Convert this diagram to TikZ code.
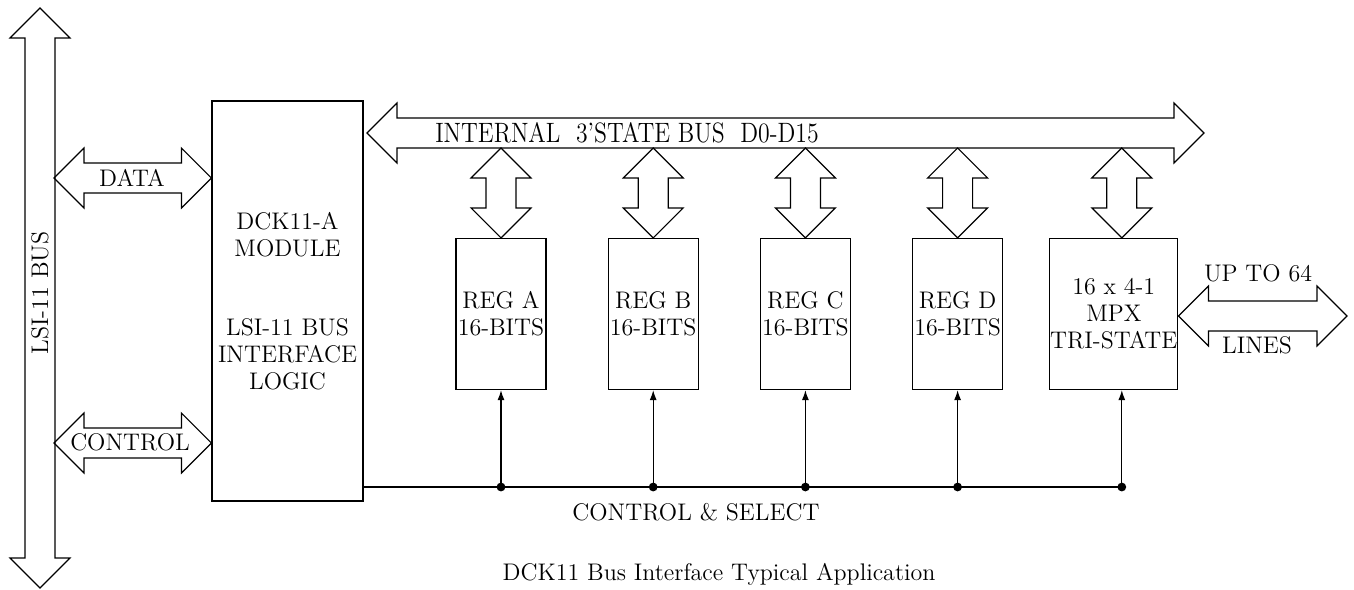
\documentclass[tikz,border=0pt]{standalone}
\usepackage{tikz}
\usepackage{graphicx}
\usetikzlibrary{positioning,calc,arrows.meta}

% wide two-headed bus arrows, tip to tip
\newcommand{\hbus}[2]{%
  \draw[bus] let \p1=(#1), \p2=(#2) in
    (\x1,\y1) -- (\x1+15pt,\y1+15pt) -- (\x1+15pt,\y1+7.5pt) -- (\x2-15pt,\y1+7.5pt)
    -- (\x2-15pt,\y1+15pt) -- (\x2,\y1) -- (\x2-15pt,\y1-15pt) -- (\x2-15pt,\y1-7.5pt)
    -- (\x1+15pt,\y1-7.5pt) -- (\x1+15pt,\y1-15pt) -- cycle;}
\newcommand{\vbus}[2]{%
  \draw[bus] let \p1=(#1), \p2=(#2) in
    (\x1,\y1) -- (\x1+15pt,\y1-15pt) -- (\x1+7.5pt,\y1-15pt) -- (\x1+7.5pt,\y2+15pt)
    -- (\x1+15pt,\y2+15pt) -- (\x1,\y2) -- (\x1-15pt,\y2+15pt) -- (\x1-7.5pt,\y2+15pt)
    -- (\x1-7.5pt,\y1-15pt) -- (\x1-15pt,\y1-15pt) -- cycle;}

\begin{document}
\begin{tikzpicture}[x=0.5pt,y=-0.5pt,line width=0.6pt,
        box/.style={draw,rectangle,inner sep=0pt,align=center,font=\fontsize{12}{13.5}\selectfont},
        reg/.style={box,minimum width=45pt,minimum height=75.5pt},
        bus/.style={line join=miter},
        lbl/.style={inner sep=0pt,font=\fontsize{12}{13.5}\selectfont},
        tap/.style={-{Latex[length=5pt,width=3.5pt]}}]
        \useasboundingbox (0,0) rectangle (1354,589);

        % system bus
        \coordinate (lsitop) at (40,8);
        \coordinate (lsibot) at (40,588);
        \vbus{lsitop}{lsibot}
        \node (lsi) [lbl,rotate=90] at (40,293) {LSI-11 BUS};

        \node (module) [box,minimum width=75.5pt,minimum height=200pt] at (287.5,301)
            {DCK11-A\\MODULE\\[26pt]LSI-11 BUS\\INTERFACE\\LOGIC};

        \coordinate (datal) at (54,178);
        \coordinate (ctrll) at (54,443);
        \hbus{datal}{module.west |- datal}
        \hbus{ctrll}{module.west |- ctrll}
        \node (data) [lbl] at (132,178) {DATA};
        \node (ctrl) [lbl] at (130,442) {CONTROL};

        % internal bus
        \coordinate (busl) at (367,133);
        \coordinate (busr) at (1204,133);
        \coordinate (busbot) at (0,148);
        \hbus{busl}{busr}
        \node (ibus) [lbl,font=\fontsize{14}{16}\selectfont] at (627,133)
            {\scalebox{0.85}[1]{INTERNAL\ \ 3'STATE BUS\ \ D0-D15}};

        \node (rega) [reg] at (501,314) {REG A\\16-BITS};
        \node (regb) [reg,right=30.5pt of rega] {REG B\\16-BITS};
        \node (regc) [reg,right=30.5pt of regb] {REG C\\16-BITS};
        \node (regd) [reg,right=30.5pt of regc] {REG D\\16-BITS};
        \node (mpx) [box,minimum width=64pt,minimum height=75.5pt,right=23pt of regd]
            {16 x 4-1\\MPX\\TRI-STATE};
        \coordinate (mpxtop) at ($(mpx.north)+(4pt,0)$);
        \coordinate (mpxbot) at ($(mpx.south)+(4pt,0)$);

        \vbus{rega.north |- busbot}{rega.north}
        \vbus{regb.north |- busbot}{regb.north}
        \vbus{regc.north |- busbot}{regc.north}
        \vbus{regd.north |- busbot}{regd.north}
        \vbus{mpxtop |- busbot}{mpxtop}

        % external lines
        \coordinate (extr) at (1347,316);
        \hbus{mpx.east |- extr}{extr}
        \node (upto) [lbl] at (1258,273) {UP TO 64};
        \node (lines) [lbl] at (1257,345) {LINES};

        % control and select
        \coordinate (ctly) at (0,487);
        \coordinate (ctl) at (module.east |- ctly);
        \draw (ctl) -- (mpxbot |- ctl);
        \draw[tap] (rega.south |- ctl) -- (rega.south);
        \draw[tap] (regb.south |- ctl) -- (regb.south);
        \draw[tap] (regc.south |- ctl) -- (regc.south);
        \draw[tap] (regd.south |- ctl) -- (regd.south);
        \draw[tap] (mpxbot |- ctl) -- (mpxbot);
        \fill (rega.south |- ctl) circle (2.2pt);
        \fill (regb.south |- ctl) circle (2.2pt);
        \fill (regc.south |- ctl) circle (2.2pt);
        \fill (regd.south |- ctl) circle (2.2pt);
        \fill (mpxbot |- ctl) circle (2.2pt);
        \node (ctlsel) [lbl] at (696,512) {CONTROL \& SELECT};

        \node (caption) [lbl,anchor=base west] at (502,580) {DCK11 Bus Interface Typical Application};
    \end{tikzpicture}
\end{document}
